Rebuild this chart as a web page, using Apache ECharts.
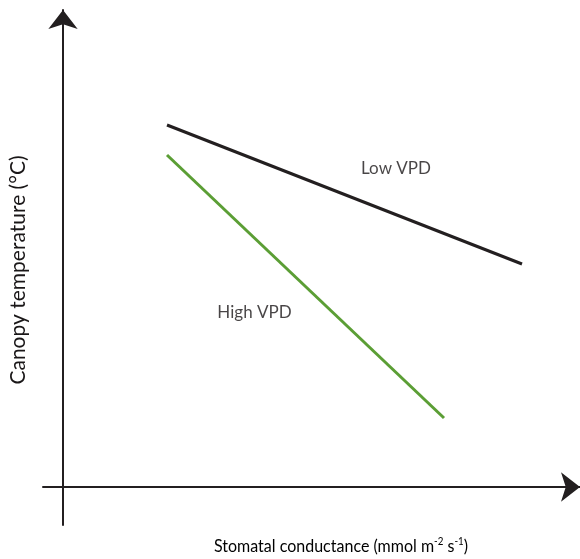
<!DOCTYPE html>
<html>
<head>
<meta charset="utf-8">
<script src="https://cdn.jsdelivr.net/npm/echarts@6/dist/echarts.min.js"></script>
<style>
html,body{margin:0;padding:0;background:#fff;}
#chart{width:580px;height:559px;}
</style>
</head>
<body>
<div id="chart"></div>
<script>
// Conceptual chart: stomatal conductance (x) vs canopy temperature (y)
const seriesNames = ['Low VPD', 'High VPD'];
const lowVPD = [[20.8, 72.4], [91.8, 44.6]];
const highVPD = [[20.8, 66.4], [76.2, 13.8]];
const labelPos = [[66.6, 63.6], [38.3, 34.8]];
const yTitle = 'Canopy temperature (°C)';

const FONT = 'Lato';
const chart = echarts.init(document.getElementById('chart'));
chart.setOption({
  animation: false,
  backgroundColor: '#fff',
  grid: { left: 43, right: 0, top: 10, bottom: 34 },
  xAxis: {
    type: 'value', min: -4, max: 103.4,
    axisLine: { show: true, onZero: true, symbol: ['none', 'arrow'], symbolSize: [22, 19],
      lineStyle: { color: '#231f20', width: 2 } },
    axisTick: { show: false }, axisLabel: { show: false }, splitLine: { show: false }
  },
  yAxis: {
    type: 'value', min: -7.6, max: 95.4,
    axisLine: { show: true, onZero: true, symbol: ['none', 'arrow'], symbolSize: [22, 19],
      lineStyle: { color: '#231f20', width: 2 } },
    axisTick: { show: false }, axisLabel: { show: false }, splitLine: { show: false }
  },
  series: [
    { name: seriesNames[0], type: 'line', data: lowVPD, symbol: 'none',
      lineStyle: { color: '#231f20', width: 3 } },
    { name: seriesNames[1], type: 'line', data: highVPD, symbol: 'none',
      lineStyle: { color: '#5b9e35', width: 3 } },
    { type: 'scatter', symbolSize: 0,
      data: labelPos.map((p, i) => ({ value: p, name: seriesNames[i] })),
      label: { show: true, position: 'inside', formatter: '{b}', color: '#1a1718',
        fontFamily: FONT, fontSize: 17 } }
  ],
  graphic: [
    { type: 'text', x: 341, y: 546, scaleX: 0.89,
      style: { text: '{a|Stomatal conductance (mmol m}{s|-2}{a| s}{s|-1}{a|)}',
        rich: { a: { fontFamily: FONT, fontSize: 18, color: '#1a1718' },
                s: { fontFamily: FONT, fontSize: 11, color: '#1a1718', verticalAlign: 'top', padding: [0,0,10,0] } },
        align: 'center', verticalAlign: 'middle' } },
    { type: 'text', x: 18, y: 270, rotation: Math.PI / 2,
      style: { text: yTitle, fontFamily: FONT, fontSize: 21, fill: '#1a1718',
        align: 'center', verticalAlign: 'middle' } }
  ]
});
</script>
</body>
</html>
